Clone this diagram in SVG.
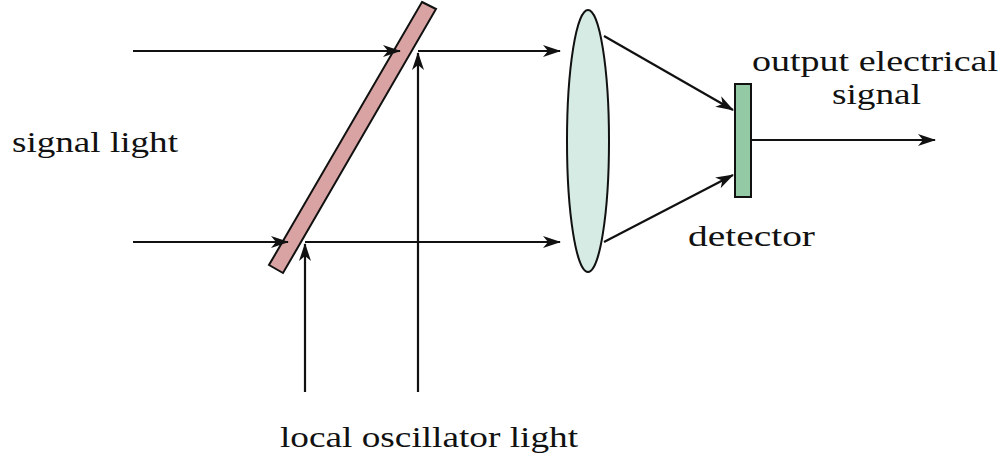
<svg xmlns="http://www.w3.org/2000/svg" width="1000" height="460" viewBox="0 0 1000 460">
<defs><marker id="a" markerWidth="18" markerHeight="12" refX="17" refY="6" orient="auto" markerUnits="userSpaceOnUse"><path d="M0,0 L18,6 L0,12 L5,6 Z" fill="#111"/></marker></defs>
<style>.l{stroke:#111;stroke-width:2.2;fill:none}.t{font-family:"Liberation Serif",serif;font-size:30px;fill:#111}</style>
<rect width="1000" height="460" fill="#fff"/>
<g id="splitter"><polygon points="422,2 436,9 283,273 269,265" fill="#d9a3a3" stroke="#111" stroke-width="2"/></g>
<g id="lens"><ellipse cx="588" cy="141" rx="21" ry="131" fill="#d5ebe3" stroke="#111" stroke-width="2"/></g>
<g id="detector"><rect x="735" y="84" width="16" height="113" fill="#93c9a4" stroke="#111" stroke-width="2"/></g>
<g id="connectors" class="l">
<line x1="133" y1="51" x2="400" y2="51" marker-end="url(#a)"/>
<line x1="418" y1="51" x2="560" y2="51" marker-end="url(#a)"/>
<line x1="133" y1="242" x2="288" y2="242" marker-end="url(#a)"/>
<line x1="305" y1="242" x2="560" y2="242" marker-end="url(#a)"/>
<line x1="418" y1="392" x2="418" y2="53" marker-end="url(#a)"/>
<line x1="305" y1="392" x2="305" y2="244" marker-end="url(#a)"/>
<line x1="604" y1="36" x2="733" y2="110" marker-end="url(#a)"/>
<line x1="604" y1="242" x2="733" y2="175" marker-end="url(#a)"/>
<line x1="751" y1="140" x2="935" y2="140" marker-end="url(#a)"/>
</g>
<g id="labels">
<text class="t" x="12" y="152" textLength="166" lengthAdjust="spacingAndGlyphs">signal light</text>
<text class="t" x="752" y="71" textLength="246" lengthAdjust="spacingAndGlyphs">output electrical</text>
<text class="t" x="832" y="104" textLength="89" lengthAdjust="spacingAndGlyphs">signal</text>
<text class="t" x="688" y="246" textLength="127" lengthAdjust="spacingAndGlyphs">detector</text>
<text class="t" x="280" y="447" textLength="298" lengthAdjust="spacingAndGlyphs">local oscillator light</text>
</g>
</svg>
